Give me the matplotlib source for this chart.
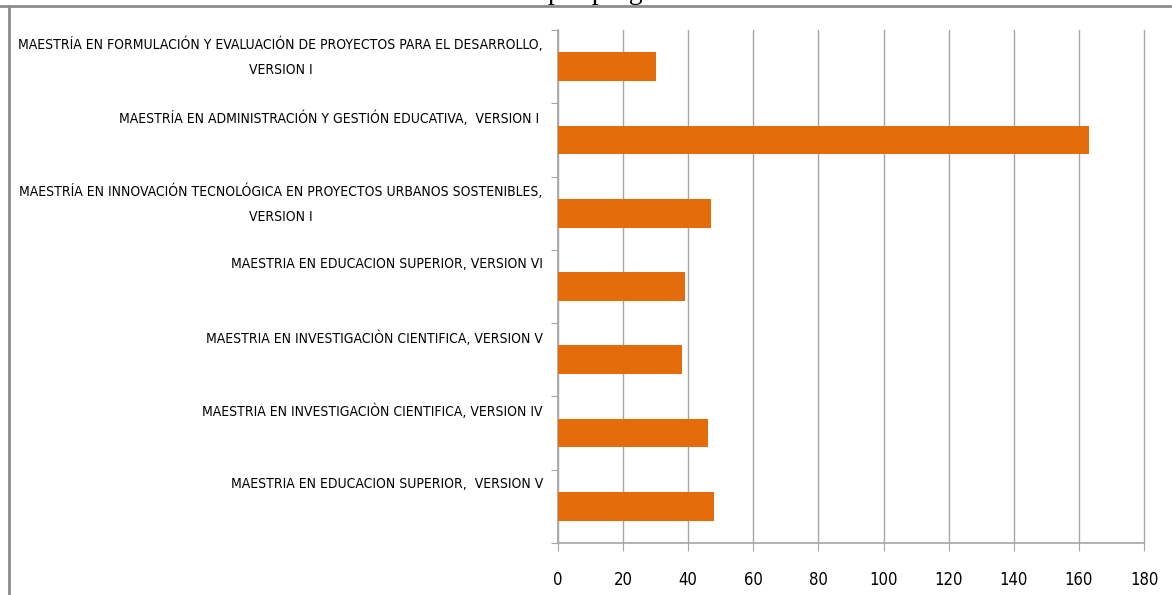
import matplotlib
matplotlib.use("Agg")
import matplotlib.pyplot as plt
from matplotlib.lines import Line2D

programas = [
    "MAESTRÍA EN FORMULACIÓN Y EVALUACIÓN DE PROYECTOS PARA EL DESARROLLO,\nVERSION I",
    "MAESTRÍA EN ADMINISTRACIÓN Y GESTIÓN EDUCATIVA,  VERSION I ",
    "MAESTRÍA EN INNOVACIÓN TECNOLÓGICA EN PROYECTOS URBANOS SOSTENIBLES,\nVERSION I",
    "MAESTRIA EN EDUCACION SUPERIOR, VERSION VI",
    "MAESTRIA EN INVESTIGACIÒN CIENTIFICA, VERSION V",
    "MAESTRIA EN INVESTIGACIÒN CIENTIFICA, VERSION IV",
    "MAESTRIA EN EDUCACION SUPERIOR,  VERSION V",
]
valores = [30, 163, 47, 39, 38, 46, 48]
xticks = [0, 20, 40, 60, 80, 100, 120, 140, 160, 180]

plt.rcParams['font.family'] = ['DejaVu Sans']
plt.rcParams['font.stretch'] = 'condensed'

W, H = 1172, 595
fig = plt.figure(figsize=(W / 100, H / 100), dpi=100)
ax = fig.add_axes([558 / W, 1 - 543 / H, (1144 - 558) / W, (543 - 30) / H])

ypos = list(range(len(valores)))
ax.barh(ypos, valores, height=0.39, color='#E46C0A', zorder=3)
ax.set_ylim(len(valores) - 0.5, -0.5)
ax.set_xlim(0, 180)
ax.set_xticks(xticks)
ax.set_xticklabels([str(t) for t in xticks], fontsize=12, color='#000000',
                   fontstretch='condensed')
ax.grid(axis='x', color='#a6a6a6', linewidth=1.0, zorder=0)
for gl in ax.get_xgridlines():
    gl.set_clip_on(False)

ax.set_yticks([y - 0.5 for y in ypos] + [len(valores) - 0.5])
ax.set_yticklabels([])
ax.tick_params(axis='y', length=5, color='#a6a6a6', direction='out')
ax.tick_params(axis='x', length=6, color='#a6a6a6', direction='out', pad=14)

for s in ['top', 'right']:
    ax.spines[s].set_visible(False)
for s in ['left', 'bottom']:
    ax.spines[s].set_color('#a6a6a6')
    ax.spines[s].set_linewidth(1.2)

tr = ax.get_yaxis_transform()
for y, lab in zip(ypos, programas):
    ax.text(-0.026, y - 0.5 + 0.095, lab, transform=tr, ha='right', va='top',
            multialignment='center', fontsize=10, linespacing=2.0,
            color='#000000', fontstretch='condensed')

# cropped title at the top of the image
fig.text(0.5 + 37.0 / W, 1 + 1.0 / H, "por programa", ha='center', va='baseline',
         fontsize=20, family=['Liberation Serif', 'DejaVu Serif'])

# page border lines
fig.add_artist(Line2D([0, 1], [1 - 5.5 / H, 1 - 5.5 / H], transform=fig.transFigure,
                      color='#8c8c8c', linewidth=2))
fig.add_artist(Line2D([8.5 / W, 8.5 / W], [0, 1 - 5.5 / H], transform=fig.transFigure,
                      color='#8c8c8c', linewidth=2))

fig.savefig('out.png', dpi=100)
